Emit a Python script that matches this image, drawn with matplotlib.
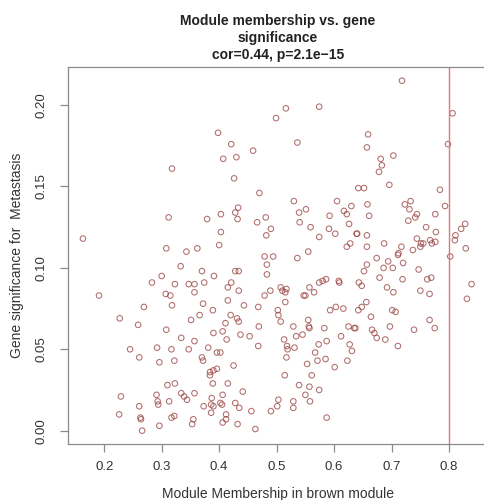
import numpy as np
import matplotlib.pyplot as plt

plt.rcParams['font.family'] = ['Liberation Sans', 'DejaVu Sans']

# module membership (x) and gene significance (y) for genes of the brown module
mm = np.array([
    0.163, 0.318, 0.312, 0.308, 0.343, 0.362, 0.333, 0.300, 0.283, 0.323,
    0.347, 0.191, 0.307, 0.315, 0.269, 0.318, 0.227, 0.259, 0.308, 0.334,
    0.245, 0.292, 0.317, 0.347, 0.261, 0.296, 0.322, 0.310, 0.323, 0.229,
    0.291, 0.334, 0.339, 0.261, 0.293, 0.294, 0.313, 0.344, 0.226, 0.263,
    0.264, 0.317, 0.322, 0.296, 0.266,
    0.516, 0.574, 0.499, 0.398, 0.421, 0.536, 0.459, 0.407, 0.430, 0.426,
    0.470, 0.530, 0.433, 0.428, 0.432, 0.379, 0.403, 0.481, 0.466, 0.490,
    0.482, 0.403, 0.400, 0.539, 0.551, 0.540, 0.559, 0.592, 0.591, 0.574,
    0.555,
    0.479, 0.494, 0.536, 0.483, 0.483, 0.370, 0.391, 0.428, 0.434, 0.357,
    0.374, 0.421, 0.415, 0.434, 0.357, 0.489, 0.507, 0.510, 0.517, 0.515,
    0.547, 0.550, 0.557, 0.565, 0.574, 0.580, 0.586, 0.479, 0.515, 0.372,
    0.415, 0.443, 0.468, 0.389, 0.502, 0.503, 0.366, 0.420, 0.431, 0.434,
    0.411, 0.507, 0.555, 0.556, 0.557, 0.529, 0.351, 0.469, 0.583, 0.406,
    0.390, 0.437, 0.453, 0.534, 0.545, 0.413, 0.513, 0.573, 0.357, 0.587,
    0.381, 0.468, 0.518, 0.519, 0.531, 0.396, 0.402, 0.567, 0.517, 0.370,
    0.372, 0.571, 0.585, 0.553, 0.425, 0.396, 0.384, 0.390, 0.384, 0.514,
    0.561, 0.389, 0.415, 0.539, 0.557, 0.574, 0.357, 0.406, 0.441, 0.387,
    0.503, 0.550, 0.558, 0.529, 0.373, 0.386, 0.390, 0.402, 0.405, 0.428,
    0.435, 0.456, 0.501, 0.490, 0.529, 0.386, 0.412, 0.355, 0.353, 0.406,
    0.412, 0.432, 0.463, 0.587,
    0.718, 0.806, 0.798, 0.659, 0.657, 0.681, 0.703, 0.683, 0.678, 0.696,
    0.642, 0.652, 0.784, 0.605, 0.617, 0.622, 0.630, 0.658, 0.661, 0.723,
    0.733, 0.731, 0.793, 0.776, 0.626, 0.744, 0.741, 0.729, 0.760, 0.602,
    0.639, 0.640, 0.657, 0.777, 0.828, 0.821, 0.811, 0.810, 0.628, 0.622,
    0.657, 0.687, 0.717, 0.744, 0.751, 0.755, 0.767, 0.776, 0.770, 0.750,
    0.829,
    0.712, 0.711, 0.737, 0.802, 0.674, 0.657, 0.652, 0.694, 0.686, 0.702,
    0.720, 0.747, 0.608, 0.609, 0.643, 0.648, 0.679, 0.719, 0.762, 0.769,
    0.839, 0.692, 0.703, 0.750, 0.766, 0.831, 0.656, 0.648, 0.642, 0.593,
    0.603, 0.616, 0.701, 0.707, 0.664, 0.766, 0.775, 0.625, 0.635, 0.637,
    0.666, 0.670, 0.674, 0.697, 0.739, 0.612, 0.689, 0.627, 0.631, 0.711,
    0.623, 0.601,
])
gs = np.array([
    0.118, 0.161, 0.131, 0.112, 0.110, 0.112, 0.101, 0.095, 0.091, 0.090,
    0.090, 0.083, 0.084, 0.083, 0.076, 0.077, 0.069, 0.065, 0.062, 0.057,
    0.050, 0.051, 0.050, 0.050, 0.045, 0.042, 0.043, 0.028, 0.029, 0.021,
    0.022, 0.023, 0.021, 0.015, 0.018, 0.016, 0.018, 0.019, 0.010, 0.008,
    0.007, 0.008, 0.009, 0.003, 0.000,
    0.198, 0.199, 0.192, 0.183, 0.176, 0.177, 0.172, 0.167, 0.168, 0.155,
    0.146, 0.141, 0.137, 0.134, 0.130, 0.130, 0.133, 0.131, 0.128, 0.124,
    0.120, 0.122, 0.114, 0.134, 0.136, 0.128, 0.125, 0.132, 0.124, 0.119,
    0.110,
    0.107, 0.107, 0.106, 0.102, 0.096, 0.098, 0.095, 0.098, 0.098, 0.090,
    0.091, 0.091, 0.088, 0.086, 0.085, 0.086, 0.088, 0.086, 0.087, 0.085,
    0.083, 0.083, 0.088, 0.085, 0.091, 0.092, 0.093, 0.083, 0.079, 0.078,
    0.080, 0.077, 0.076, 0.074, 0.074, 0.071, 0.071, 0.071, 0.069, 0.067,
    0.066, 0.067, 0.068, 0.064, 0.063, 0.064, 0.068, 0.064, 0.063, 0.061,
    0.060, 0.059, 0.058, 0.058, 0.059, 0.056, 0.056, 0.053, 0.055, 0.055,
    0.051, 0.052, 0.052, 0.050, 0.051, 0.048, 0.048, 0.048, 0.045, 0.045,
    0.043, 0.043, 0.044, 0.041, 0.040, 0.038, 0.036, 0.037, 0.034, 0.034,
    0.034, 0.029, 0.029, 0.028, 0.027, 0.025, 0.023, 0.022, 0.024, 0.020,
    0.019, 0.022, 0.018, 0.018, 0.015, 0.016, 0.015, 0.017, 0.016, 0.017,
    0.014, 0.012, 0.015, 0.012, 0.014, 0.011, 0.010, 0.007, 0.004, 0.005,
    0.007, 0.004, 0.001, 0.008,
    0.215, 0.195, 0.176, 0.182, 0.174, 0.167, 0.169, 0.163, 0.159, 0.151,
    0.149, 0.149, 0.148, 0.141, 0.135, 0.133, 0.138, 0.139, 0.132, 0.139,
    0.141, 0.136, 0.138, 0.133, 0.127, 0.133, 0.131, 0.129, 0.125, 0.121,
    0.121, 0.121, 0.120, 0.122, 0.127, 0.124, 0.120, 0.117, 0.115, 0.113,
    0.113, 0.115, 0.113, 0.118, 0.115, 0.115, 0.117, 0.116, 0.115, 0.113,
    0.112,
    0.109, 0.108, 0.111, 0.107, 0.106, 0.102, 0.098, 0.104, 0.100, 0.100,
    0.103, 0.099, 0.092, 0.091, 0.091, 0.089, 0.094, 0.093, 0.093, 0.094,
    0.090, 0.088, 0.085, 0.086, 0.084, 0.081, 0.079, 0.076, 0.074, 0.074,
    0.076, 0.075, 0.074, 0.073, 0.070, 0.068, 0.063, 0.064, 0.063, 0.063,
    0.062, 0.060, 0.057, 0.064, 0.062, 0.058, 0.056, 0.053, 0.049, 0.052,
    0.043, 0.039,
])

threshold = 0.8
title = 'Module membership vs. gene\nsignificance\ncor=0.44, p=2.1e\u221215'
xticks = [0.2, 0.3, 0.4, 0.5, 0.6, 0.7, 0.8]
yticks = [0.00, 0.05, 0.10, 0.15, 0.20]

fig = plt.figure(figsize=(4.85, 5.0), dpi=100)
ax = fig.add_axes([0.1402, 0.112, 0.8652, 0.754])

ax.scatter(mm, gs, s=16, facecolors='none', edgecolors='#9c4846',
           linewidths=0.75, alpha=0.8)
ax.axvline(threshold, color='#e07878', lw=1.0)

ax.set_xlim(0.137, 0.867)
ax.set_ylim(-0.0082, 0.2234)
ax.set_xticks(xticks)
ax.set_xticklabels(['%.1f' % v for v in xticks])
ax.set_yticks(yticks)
ax.set_yticklabels(['%.2f' % v for v in yticks], rotation=90, va='center')

for s in ax.spines.values():
    s.set_color('#8a8a8a')
    s.set_linewidth(0.9)
ax.tick_params(direction='out', length=6, width=0.9, color='#8a8a8a',
               labelsize=9.5, labelcolor='#333333')
ax.tick_params(axis='x', pad=6)
ax.tick_params(axis='y', pad=9)

ax.set_xlabel('Module Membership in brown module', fontsize=10,
              color='#333333', labelpad=10)
ax.set_ylabel('Gene significance for  Metastasis', fontsize=10,
              color='#333333', labelpad=8)

fig.text(277.8 / 485, 1 - 14 / 500, title, ha='center', va='top',
         fontsize=10, fontweight='bold', color='#222222', linespacing=1.25)

fig.savefig('out.png', dpi=100)
